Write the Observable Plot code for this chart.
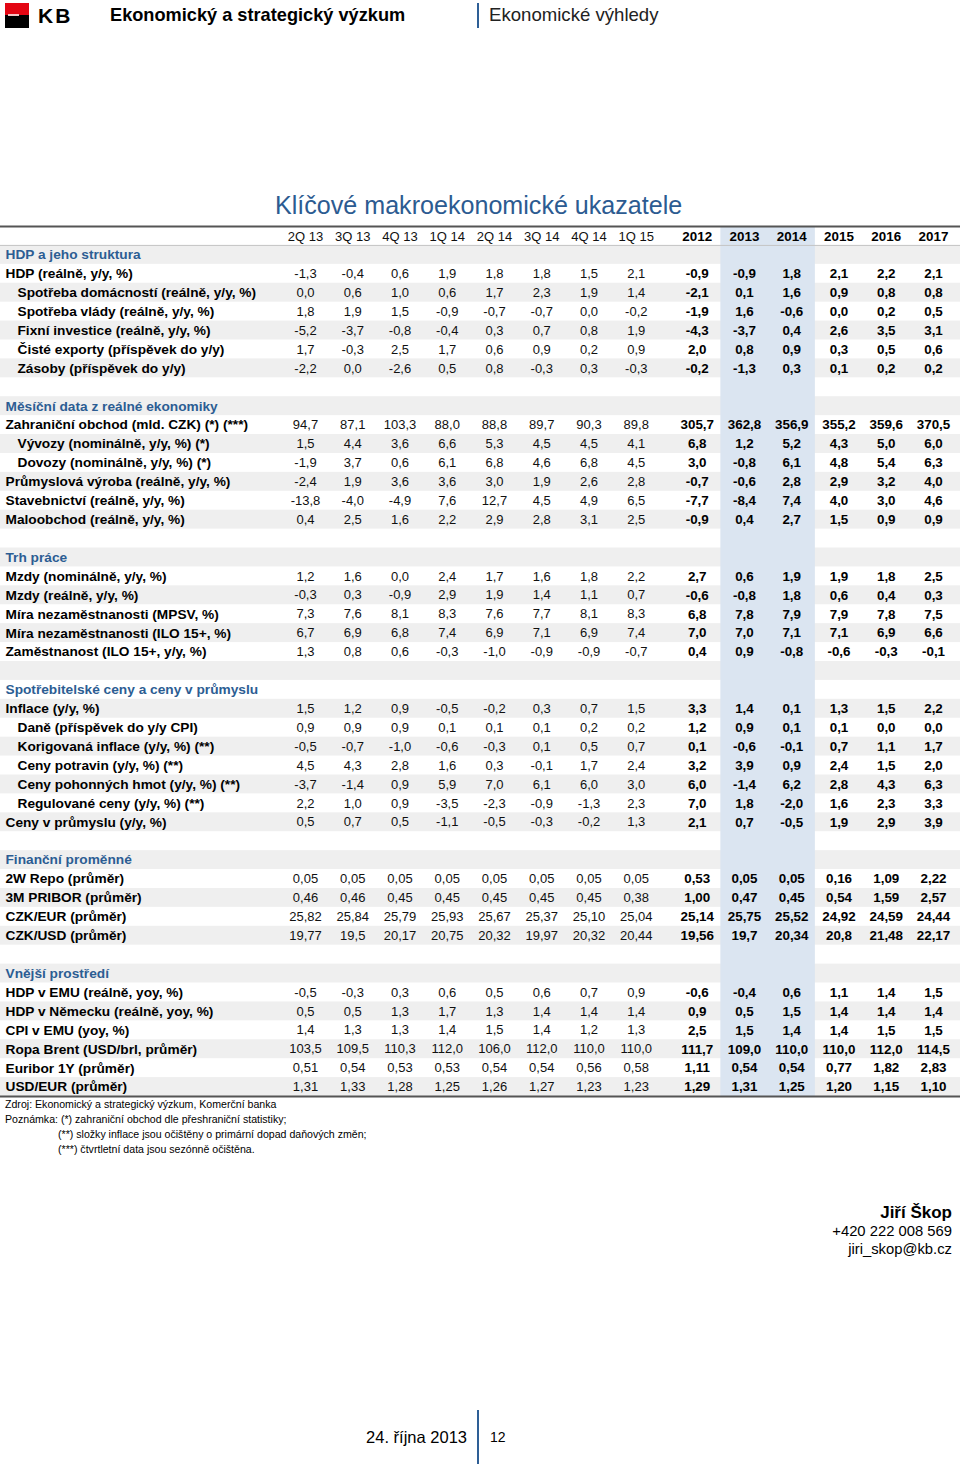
<!DOCTYPE html>
<html><head><meta charset="utf-8">
<script src="https://cdn.jsdelivr.net/npm/d3@7"></script>
<script src="https://cdn.jsdelivr.net/npm/@observablehq/plot@0.6"></script>
<style>
body{margin:0;background:#fff;font-family:"Liberation Sans",Arial,Helvetica,sans-serif;}
#page{position:relative;width:960px;height:1464px;overflow:hidden;background:#fff;}
.a{position:absolute;white-space:nowrap;line-height:1;transform:translateY(-50%);}
#chart{position:absolute;left:0;top:222px;}
</style></head><body><div id="page">
  <div style="position:absolute;left:5px;top:3px;width:24px;height:25px;background:linear-gradient(#e30613 50%,#000 50%);"></div>
  <div style="position:absolute;left:8px;top:14px;width:11px;height:2px;background:#f3c6c6;"></div>
  <div class="a" style="left:38px;top:15px;font-size:21px;font-weight:bold;letter-spacing:2px;color:#000;">KB</div>
  <div class="a" style="left:110px;top:15px;font-size:18.2px;font-weight:bold;color:#000;">Ekonomický a strategický výzkum</div>
  <div style="position:absolute;left:477px;top:3px;width:2px;height:25px;background:#2e5f96;"></div>
  <div class="a" style="left:489px;top:15px;font-size:18.6px;color:#222;">Ekonomické výhledy</div>
  <div class="a" style="left:275px;top:206px;font-size:25.1px;color:#2c5b91;">Klíčové makroekonomické ukazatele</div>
  <div id="chart"></div>
  <div class="a" style="left:5px;top:1104px;font-size:10.6px;color:#000;">Zdroj: Ekonomický a strategický výzkum, Komerční banka</div>
  <div class="a" style="left:5px;top:1119px;font-size:10.6px;color:#000;">Poznámka: (*) zahraniční obchod dle přeshraniční statistiky;</div>
  <div class="a" style="left:58px;top:1134px;font-size:10.6px;color:#000;">(**) složky inflace jsou očištěny o primární dopad daňových změn;</div>
  <div class="a" style="left:58px;top:1149px;font-size:10.6px;color:#000;">(***) čtvrtletní data jsou sezónně očištěna.</div>
  <div class="a" style="right:8px;top:1212px;font-size:17px;font-weight:bold;color:#000;">Jiří Škop</div>
  <div class="a" style="right:8px;top:1231px;font-size:14.8px;color:#000;">+420 222 008 569</div>
  <div class="a" style="right:8px;top:1249px;font-size:14.8px;color:#000;">jiri_skop@kb.cz</div>
  <div class="a" style="right:493px;top:1437px;font-size:16.5px;color:#000;">24. října 2013</div>
  <div style="position:absolute;left:477px;top:1410px;width:2px;height:54px;background:#2e5f96;"></div>
  <div class="a" style="left:490px;top:1437px;font-size:14px;color:#000;">12</div>
</div>
<script>
// ---- column labels ----
const quarters = ["2Q 13","3Q 13","4Q 13","1Q 14","2Q 14","3Q 14","4Q 14","1Q 15"];
const years = ["2012","2013","2014","2015","2016","2017"];
const highlighted = ["2013","2014"];

// ---- section titles ----
const sectionTitles = ["HDP a jeho struktura","Měsíční data z reálné ekonomiky","Trh práce","Spotřebitelské ceny a ceny v průmyslu","Finanční proměnné","Vnější prostředí"];

// ---- series values (8 quarters, then 6 years) ----
const hdp = [-1.3,-0.4,0.6,1.9,1.8,1.8,1.5,2.1, -0.9,-0.9,1.8,2.1,2.2,2.1];
const spotrebaDom = [0.0,0.6,1.0,0.6,1.7,2.3,1.9,1.4, -2.1,0.1,1.6,0.9,0.8,0.8];
const spotrebaVlady = [1.8,1.9,1.5,-0.9,-0.7,-0.7,0.0,-0.2, -1.9,1.6,-0.6,0.0,0.2,0.5];
const fixniInv = [-5.2,-3.7,-0.8,-0.4,0.3,0.7,0.8,1.9, -4.3,-3.7,0.4,2.6,3.5,3.1];
const cisteExporty = [1.7,-0.3,2.5,1.7,0.6,0.9,0.2,0.9, 2.0,0.8,0.9,0.3,0.5,0.6];
const zasoby = [-2.2,0.0,-2.6,0.5,0.8,-0.3,0.3,-0.3, -0.2,-1.3,0.3,0.1,0.2,0.2];

const zahrObchod = [94.7,87.1,103.3,88.0,88.8,89.7,90.3,89.8, 305.7,362.8,356.9,355.2,359.6,370.5];
const vyvozy = [1.5,4.4,3.6,6.6,5.3,4.5,4.5,4.1, 6.8,1.2,5.2,4.3,5.0,6.0];
const dovozy = [-1.9,3.7,0.6,6.1,6.8,4.6,6.8,4.5, 3.0,-0.8,6.1,4.8,5.4,6.3];
const prumysl = [-2.4,1.9,3.6,3.6,3.0,1.9,2.6,2.8, -0.7,-0.6,2.8,2.9,3.2,4.0];
const stavebnictvi = [-13.8,-4.0,-4.9,7.6,12.7,4.5,4.9,6.5, -7.7,-8.4,7.4,4.0,3.0,4.6];
const maloobchod = [0.4,2.5,1.6,2.2,2.9,2.8,3.1,2.5, -0.9,0.4,2.7,1.5,0.9,0.9];

const mzdyNom = [1.2,1.6,0.0,2.4,1.7,1.6,1.8,2.2, 2.7,0.6,1.9,1.9,1.8,2.5];
const mzdyReal = [-0.3,0.3,-0.9,2.9,1.9,1.4,1.1,0.7, -0.6,-0.8,1.8,0.6,0.4,0.3];
const nezamMpsv = [7.3,7.6,8.1,8.3,7.6,7.7,8.1,8.3, 6.8,7.8,7.9,7.9,7.8,7.5];
const nezamIlo = [6.7,6.9,6.8,7.4,6.9,7.1,6.9,7.4, 7.0,7.0,7.1,7.1,6.9,6.6];
const zamestnanost = [1.3,0.8,0.6,-0.3,-1.0,-0.9,-0.9,-0.7, 0.4,0.9,-0.8,-0.6,-0.3,-0.1];

const inflace = [1.5,1.2,0.9,-0.5,-0.2,0.3,0.7,1.5, 3.3,1.4,0.1,1.3,1.5,2.2];
const dane = [0.9,0.9,0.9,0.1,0.1,0.1,0.2,0.2, 1.2,0.9,0.1,0.1,0.0,0.0];
const korigInflace = [-0.5,-0.7,-1.0,-0.6,-0.3,0.1,0.5,0.7, 0.1,-0.6,-0.1,0.7,1.1,1.7];
const cenyPotravin = [4.5,4.3,2.8,1.6,0.3,-0.1,1.7,2.4, 3.2,3.9,0.9,2.4,1.5,2.0];
const cenyPohonnych = [-3.7,-1.4,0.9,5.9,7.0,6.1,6.0,3.0, 6.0,-1.4,6.2,2.8,4.3,6.3];
const regulCeny = [2.2,1.0,0.9,-3.5,-2.3,-0.9,-1.3,2.3, 7.0,1.8,-2.0,1.6,2.3,3.3];
const cenyPrumysl = [0.5,0.7,0.5,-1.1,-0.5,-0.3,-0.2,1.3, 2.1,0.7,-0.5,1.9,2.9,3.9];

const repo2w = [0.05,0.05,0.05,0.05,0.05,0.05,0.05,0.05, 0.53,0.05,0.05,0.16,1.09,2.22];
const pribor3m = [0.46,0.46,0.45,0.45,0.45,0.45,0.45,0.38, 1.00,0.47,0.45,0.54,1.59,2.57];
const czkEur = [25.82,25.84,25.79,25.93,25.67,25.37,25.10,25.04, 25.14,25.75,25.52,24.92,24.59,24.44];
const czkUsd = [19.77,19.5,20.17,20.75,20.32,19.97,20.32,20.44, 19.56,19.7,20.34,20.8,21.48,22.17];

const hdpEmu = [-0.5,-0.3,0.3,0.6,0.5,0.6,0.7,0.9, -0.6,-0.4,0.6,1.1,1.4,1.5];
const hdpNem = [0.5,0.5,1.3,1.7,1.3,1.4,1.4,1.4, 0.9,0.5,1.5,1.4,1.4,1.4];
const cpiEmu = [1.4,1.3,1.3,1.4,1.5,1.4,1.2,1.3, 2.5,1.5,1.4,1.4,1.5,1.5];
const brent = [103.5,109.5,110.3,112.0,106.0,112.0,110.0,110.0, 111.7,109.0,110.0,110.0,112.0,114.5];
const euribor = [0.51,0.54,0.53,0.53,0.54,0.54,0.56,0.58, 1.11,0.54,0.54,0.77,1.82,2.83];
const usdEur = [1.31,1.33,1.28,1.25,1.26,1.27,1.23,1.23, 1.29,1.31,1.25,1.20,1.15,1.10];

// ---- table layout (kind: section / main / sub / blank; dec = shown decimals, null = as is) ----
const rowsSpec = [
  ["section", sectionTitles[0]],
  ["main", "HDP (reálně, y/y, %)", hdp, 1],
  ["sub", "Spotřeba domácností (reálně, y/y, %)", spotrebaDom, 1],
  ["sub", "Spotřeba vlády (reálně, y/y, %)", spotrebaVlady, 1],
  ["sub", "Fixní investice (reálně, y/y, %)", fixniInv, 1],
  ["sub", "Čisté exporty (příspěvek do y/y)", cisteExporty, 1],
  ["sub", "Zásoby (příspěvek do y/y)", zasoby, 1],
  ["blank", ""],
  ["section", sectionTitles[1]],
  ["main", "Zahraniční obchod (mld. CZK) (*) (***)", zahrObchod, 1],
  ["sub", "Vývozy (nominálně, y/y, %) (*)", vyvozy, 1],
  ["sub", "Dovozy (nominálně, y/y, %) (*)", dovozy, 1],
  ["main", "Průmyslová výroba (reálně, y/y, %)", prumysl, 1],
  ["main", "Stavebnictví (reálně, y/y, %)", stavebnictvi, 1],
  ["main", "Maloobchod (reálně, y/y, %)", maloobchod, 1],
  ["blank", ""],
  ["section", sectionTitles[2]],
  ["main", "Mzdy (nominálně, y/y, %)", mzdyNom, 1],
  ["main", "Mzdy (reálně, y/y, %)", mzdyReal, 1],
  ["main", "Míra nezaměstnanosti (MPSV, %)", nezamMpsv, 1],
  ["main", "Míra nezaměstnanosti (ILO 15+, %)", nezamIlo, 1],
  ["main", "Zaměstnanost (ILO 15+, y/y, %)", zamestnanost, 1],
  ["blank", ""],
  ["section", sectionTitles[3]],
  ["main", "Inflace (y/y, %)", inflace, 1],
  ["sub", "Daně (příspěvek do y/y CPI)", dane, 1],
  ["sub", "Korigovaná inflace (y/y, %) (**)", korigInflace, 1],
  ["sub", "Ceny potravin (y/y, %) (**)", cenyPotravin, 1],
  ["sub", "Ceny pohonných hmot (y/y, %) (**)", cenyPohonnych, 1],
  ["sub", "Regulované ceny (y/y, %) (**)", regulCeny, 1],
  ["main", "Ceny v průmyslu (y/y, %)", cenyPrumysl, 1],
  ["blank", ""],
  ["section", sectionTitles[4]],
  ["main", "2W Repo (průměr)", repo2w, 2],
  ["main", "3M PRIBOR (průměr)", pribor3m, 2],
  ["main", "CZK/EUR (průměr)", czkEur, 2],
  ["main", "CZK/USD (průměr)", czkUsd, null],
  ["blank", ""],
  ["section", sectionTitles[5]],
  ["main", "HDP v EMU (reálně, yoy, %)", hdpEmu, 1],
  ["main", "HDP v Německu (reálně, yoy, %)", hdpNem, 1],
  ["main", "CPI v EMU (yoy, %)", cpiEmu, 1],
  ["main", "Ropa Brent (USD/brl, průměr)", brent, 1],
  ["main", "Euribor 1Y (průměr)", euribor, 2],
  ["main", "USD/EUR (průměr)", usdEur, 2]
];

const columns = [...quarters, ...years];
const yearGap = 0.29; // extra spacing between quarterly and annual groups (in column steps)
const xOf = (c) => columns.indexOf(c) + (years.includes(c) ? yearGap : 0);
const fmt = (v, dec) => (dec == null ? String(v) : v.toFixed(dec)).replace(".", ",");

const rows = [{key: "r0", kind: "header", label: ""}].concat(
  rowsSpec.map(([kind, label, values, dec], i) => ({key: "r" + (i + 1), kind, label, values, dec}))
);
const keys = rows.map(r => r.key);

const cells = [];
for (const r of rows) {
  if (!r.values) continue;
  r.values.forEach((v, j) => cells.push({key: r.key, col: columns[j], text: fmt(v, r.dec), annual: j >= quarters.length}));
}
const headerCells = columns.map(c => ({col: c, annual: years.includes(c)}));

const H = 880, MT = 4, MB = 6;
const bw = (H - MT - MB) / keys.length;
const FONT = '"Liberation Sans", Arial, Helvetica, sans-serif';
const FS = 13;       // quarterly values
const FSB = 13.4;    // annual (bold) values
const FSL = 13.7;    // row labels

const chart = Plot.plot({
  width: 960, height: H,
  marginTop: MT, marginBottom: MB, marginLeft: 0, marginRight: 0,
  x: {domain: [0, xOf(years[years.length - 1])], range: [305, 933], axis: null},
  y: {type: "band", domain: keys, padding: 0, axis: null},
  style: {fontFamily: FONT, background: "transparent", overflow: "visible"},
  marks: [
    Plot.cell(rows.filter((r, i) => i % 2 === 1), {y: "key", fill: "#efefef"}),
    Plot.barX([highlighted], {x1: d => xOf(d[0]) - 0.5, x2: d => xOf(d[d.length - 1]) + 0.5, fill: "#dbe5f1"}),
    Plot.ruleY([keys[0]], {y: d => d, dy: -bw / 2, stroke: "#555", strokeWidth: 2}),
    Plot.ruleY([keys[0]], {y: d => d, dy: bw / 2, stroke: "#c4c4c4", strokeWidth: 1}),
    Plot.ruleY([keys[keys.length - 1]], {y: d => d, dy: bw / 2, stroke: "#555", strokeWidth: 2}),
    // header labels
    Plot.text(headerCells.filter(d => !d.annual), {x: d => xOf(d.col), y: () => keys[0], text: "col", fontSize: FS, fill: "#111", dy: 1}),
    Plot.text(headerCells.filter(d => d.annual), {x: d => xOf(d.col), y: () => keys[0], text: "col", fontSize: FSB, fontWeight: "bold", fill: "#000", dy: 1}),
    // row labels
    Plot.text(rows.filter(r => r.kind === "section"), {y: "key", text: "label", frameAnchor: "left", textAnchor: "start", dx: 5, fontSize: FSL, fontWeight: "bold", fill: "#2c5d93"}),
    Plot.text(rows.filter(r => r.kind === "main"), {y: "key", text: "label", frameAnchor: "left", textAnchor: "start", dx: 5, fontSize: FSL, fontWeight: "bold", fill: "#000"}),
    Plot.text(rows.filter(r => r.kind === "sub"), {y: "key", text: "label", frameAnchor: "left", textAnchor: "start", dx: 17, fontSize: FSL, fontWeight: "bold", fill: "#000"}),
    // values
    Plot.text(cells.filter(d => !d.annual), {x: d => xOf(d.col), y: "key", text: "text", fontSize: FS, fill: "#111"}),
    Plot.text(cells.filter(d => d.annual), {x: d => xOf(d.col), y: "key", text: "text", fontSize: FSB, fontWeight: "bold", fill: "#000"})
  ]
});
document.getElementById("chart").appendChild(chart);
</script>
</body></html>
